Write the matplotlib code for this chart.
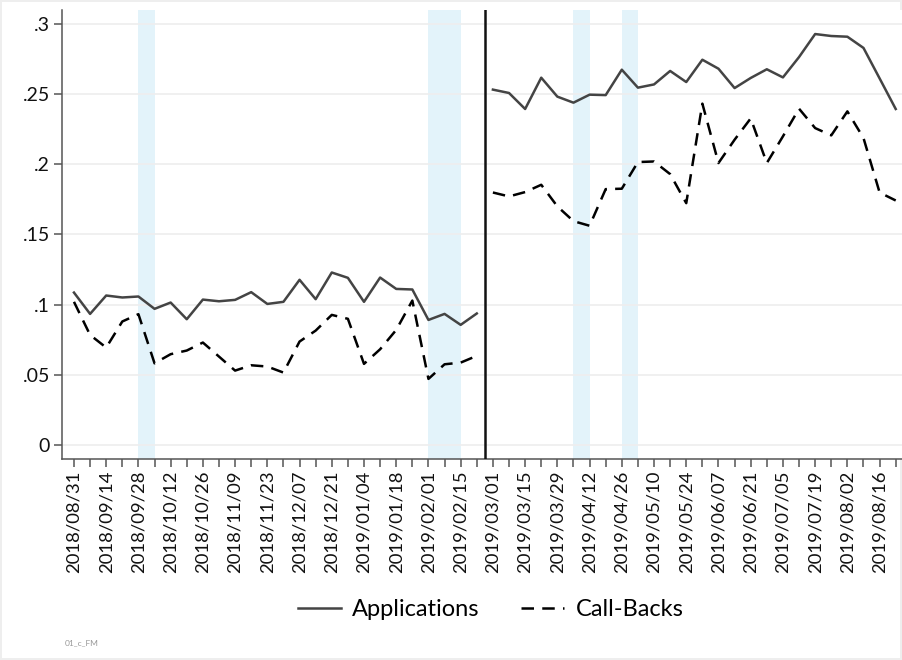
import pandas as pd
import numpy as np
import matplotlib.pyplot as plt

plt.rcParams['font.family'] = ['Lato', 'DejaVu Sans']

# weekly dates, two sub-periods split around 2019/02/25
dates_pre = pd.date_range('2018-08-31', '2019-02-22', freq='7D')
dates_post = pd.date_range('2019-03-01', '2019-08-23', freq='7D')

applications_pre = [0.1086, 0.0934, 0.1065, 0.1051, 0.1058, 0.0970, 0.1015, 0.0896, 0.1036,
                    0.1024, 0.1034, 0.1089, 0.1005, 0.1020, 0.1177, 0.1039, 0.1229, 0.1191,
                    0.1020, 0.1193, 0.1112, 0.1108, 0.0891, 0.0934, 0.0856, 0.0937]
callbacks_pre = [0.1020, 0.0784, 0.0694, 0.0880, 0.0932, 0.0582, 0.0647, 0.0673, 0.0730,
                 0.0630, 0.0530, 0.0568, 0.0559, 0.0516, 0.0737, 0.0815, 0.0927, 0.0899,
                 0.0578, 0.0682, 0.0820, 0.1029, 0.0471, 0.0575, 0.0587, 0.0635]
applications_post = [0.2532, 0.2508, 0.2394, 0.2617, 0.2482, 0.2439, 0.2496, 0.2493, 0.2674,
                     0.2546, 0.2569, 0.2665, 0.2586, 0.2745, 0.2681, 0.2543, 0.2615, 0.2677,
                     0.2619, 0.2764, 0.2928, 0.2914, 0.2909, 0.2829, 0.2612, 0.2394]
callbacks_post = [0.1799, 0.1771, 0.1802, 0.1854, 0.1700, 0.1595, 0.1562, 0.1823, 0.1826,
                  0.2016, 0.2020, 0.1930, 0.1723, 0.2432, 0.2009, 0.2175, 0.2327, 0.2009,
                  0.2199, 0.2396, 0.2258, 0.2206, 0.2377, 0.2187, 0.1799, 0.1742]

# highlighted weeks (start, end)
bands = [('2018-09-28', '2018-10-05'), ('2019-02-01', '2019-02-15'),
         ('2019-04-05', '2019-04-12'), ('2019-04-26', '2019-05-03')]
break_date = pd.Timestamp('2019-02-25 12:00')

yticks = [0, 0.05, 0.1, 0.15, 0.2, 0.25, 0.3]
ytick_labels = ['0', '.05', '.1', '.15', '.2', '.25', '.3']

fig = plt.figure(figsize=(9.02, 6.6), dpi=100)
fig.patch.set_edgecolor('#eeeeee')
fig.patch.set_linewidth(1.5)
ax = fig.add_axes([0.0687, 0.3045, 0.9313, 0.6805])

for s, e in bands:
    ax.axvspan(pd.Timestamp(s), pd.Timestamp(e), color='#e3f3fa', lw=0, zorder=0)

dash = (0, (5, 3.3))
ax.plot(dates_pre, applications_pre, color='#444444', lw=1.8, zorder=3, label='Applications')
ax.plot(dates_post, applications_post, color='#444444', lw=1.8, zorder=3)
ax.plot(dates_pre, callbacks_pre, color='black', lw=1.8, ls=dash, zorder=3, label='Call-Backs')
ax.plot(dates_post, callbacks_post, color='black', lw=1.8, ls=dash, zorder=3)

ax.axvline(break_date, color='#111111', lw=1.8, zorder=4)

all_dates = dates_pre.append(dates_post)
week = pd.Timedelta(days=7)
ax.set_xlim(all_dates[0] - 0.745 * week, all_dates[-1] + 0.39 * week)
ax.set_xticks(all_dates)
ax.set_xticklabels([d.strftime('%Y/%m/%d') if i % 2 == 0 else '' for i, d in enumerate(all_dates)],
                   rotation=90, fontsize=13.3, color='#111111')

ax.set_ylim(-0.01, 0.31)
ax.set_yticks(yticks)
ax.set_yticklabels(ytick_labels, fontsize=14, color='#111111')
ax.grid(axis='y', color='#eeeeee', lw=1.2, zorder=1)

for side in ['top', 'right']:
    ax.spines[side].set_visible(False)
for side in ['left', 'bottom']:
    ax.spines[side].set_color('#555555')
    ax.spines[side].set_linewidth(1.1)
ax.tick_params(axis='both', length=5.5, width=1.1, color='#555555', pad=3)

fig.legend(loc='center', bbox_to_anchor=(0.544, 0.076), ncol=2, frameon=False, fontsize=17,
           handlelength=1.8, columnspacing=1.75, handletextpad=0.5)
fig.text(0.072, 0.022, '01_c_FM', fontsize=6, color='#999999')

fig.savefig('out.png', dpi=100)
